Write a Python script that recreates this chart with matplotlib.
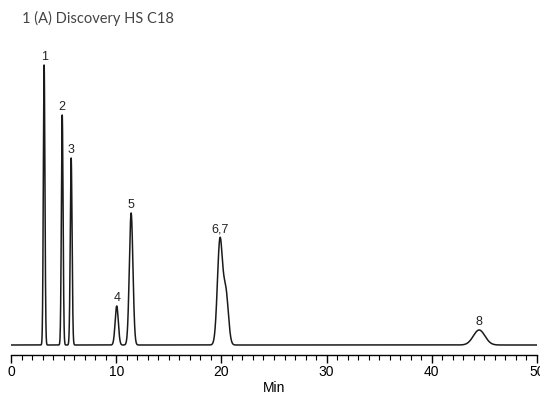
import numpy as np
import matplotlib.pyplot as plt

# peak table
peak_labels = ['1', '2', '3', '4', '5', '6,7', '', '8']
peak_times = [3.15, 4.87, 5.72, 10.05, 11.42, 19.86, 20.42, 44.5]
peak_heights = [280, 230, 187, 39, 132, 104, 52, 15]
peak_widths = [0.075, 0.08, 0.085, 0.15, 0.17, 0.24, 0.24, 0.55]

x_ticks = [0, 10, 20, 30, 40, 50]
title = '1 (A) Discovery HS C18'

t = np.linspace(0, 50, 5001)
signal = np.zeros_like(t)
for rt, h, w in zip(peak_times, peak_heights, peak_widths):
    signal += h * np.exp(-0.5 * ((t - rt) / w) ** 2)

fig = plt.figure(figsize=(5.4, 3.94), dpi=100)
ax = fig.add_axes([11 / 540, 39 / 394, 526 / 540, 305 / 394])
ax.plot(t, signal, color='#1a1a1a', lw=1.1)
ax.set_xlim(0, 50)
ax.set_ylim(-10, 295)

for lab, rt, h, w in zip(peak_labels, peak_times, peak_heights, peak_widths):
    if not lab:
        continue
    top = signal[np.argmin(np.abs(t - rt))]
    ax.annotate(lab, (rt, top), xytext=(0, 1.5), textcoords='offset points',
                ha='center', va='bottom', fontsize=9, family='Liberation Sans',
                color='#222222')

for s in ['top', 'right', 'left']:
    ax.spines[s].set_visible(False)
ax.spines['bottom'].set_linewidth(1.0)
ax.set_yticks([])
ax.set_xticks(x_ticks)
ax.set_xticks(np.arange(0, 51, 1), minor=True)
ax.tick_params(axis='x', which='major', length=6, width=1.0, direction='out',
               labelsize=10, pad=1)
ax.tick_params(axis='x', which='minor', length=3.5, width=0.8, direction='out')
for lbl in ax.get_xticklabels():
    lbl.set_family('Liberation Sans')
ax.set_xlabel('Min', fontsize=10, family='Liberation Sans', labelpad=2)

fig.text(22 / 540, 1 - 18 / 394, title, fontsize=10.5, family='Lato',
         color='#444444', va='center', ha='left')

fig.savefig('out.png', dpi=100)
